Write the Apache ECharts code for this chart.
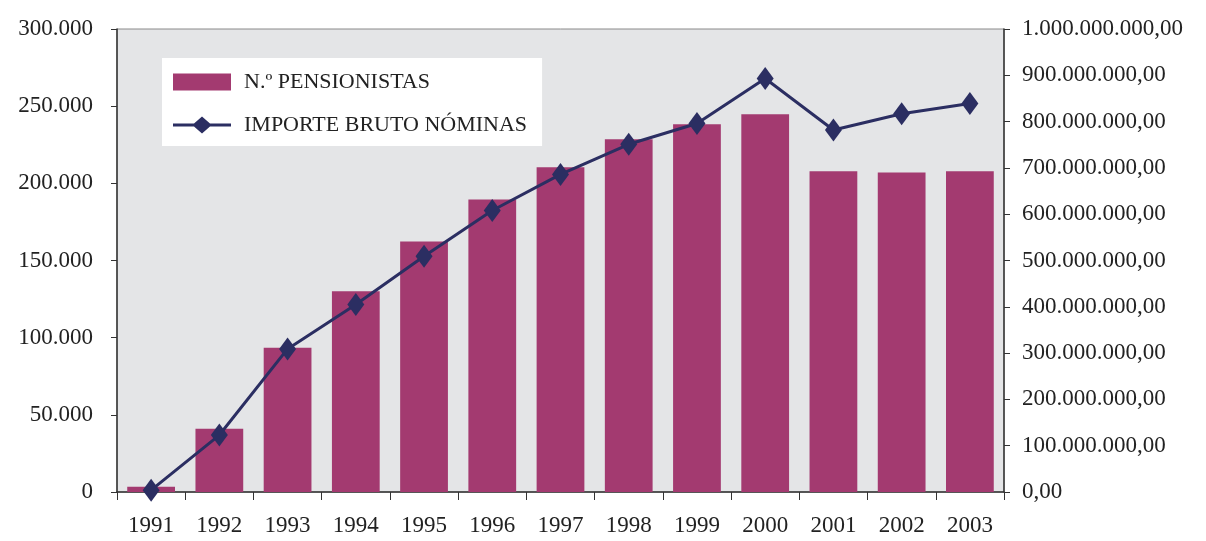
<!DOCTYPE html>
<html>
<head>
<meta charset="utf-8">
<script src="https://cdn.jsdelivr.net/npm/echarts@6/dist/echarts.min.js"></script>
<style>
    html, body { margin: 0; padding: 0; background: #fff; }
    #chart { width: 1206px; height: 541px; }
</style>
</head>
<body>
<div id="chart"></div>
<script>
var years = ['1991', '1992', '1993', '1994', '1995', '1996', '1997', '1998', '1999', '2000', '2001', '2002', '2003'];
var pensionistas = [3400, 41000, 93500, 130000, 162300, 189600, 210400, 228600, 238300, 244800, 207800, 207100, 207800];
var importeBruto = [4000000, 123000000, 309000000, 405000000, 509000000, 608000000, 686000000, 751000000, 796000000, 893000000, 782000000, 817000000, 839000000];

var fontFamily = '"Liberation Serif", "DejaVu Serif", serif';

function fmtThousands (v) {
    return String(Math.round(v)).replace(/\B(?=(\d{3})+(?!\d))/g, '.');
}

// line + diamond for the legend, drawn at itemWidth x itemHeight
var lineDiamondIcon = 'path://M0,7L21,7L29,0L37,7L58,7L58,10L37,10L29,17L21,10L0,10Z';

var myChart = echarts.init(document.getElementById('chart'));
var option = {
    animation: false,
    textStyle: { fontFamily: fontFamily },
    grid: {
        left: 117,
        right: 202,
        top: 29,
        bottom: 49,
        show: true,
        backgroundColor: '#e4e5e7',
        borderColor: '#8a8a8a',
        borderWidth: 1
    },
    legend: {
        orient: 'vertical',
        left: 162,
        top: 58,
        padding: [13, 15, 10, 11],
        backgroundColor: '#ffffff',
        itemWidth: 58,
        itemHeight: 17,
        itemGap: 21,
        symbolKeepAspect: false,
        textStyle: { fontFamily: fontFamily, fontSize: 22, color: '#222', padding: [0, 0, 0, 8] },
        data: [
            { name: 'N.º PENSIONISTAS', icon: 'rect' },
            { name: 'IMPORTE BRUTO NÓMINAS', icon: lineDiamondIcon }
        ]
    },
    xAxis: {
        type: 'category',
        data: years,
        axisLine: { lineStyle: { color: '#333', width: 1.5 } },
        axisTick: { show: true, length: 8, lineStyle: { color: '#333' } },
        axisLabel: { fontSize: 23, color: '#222', margin: 22, fontFamily: fontFamily }
    },
    yAxis: [
        {
            type: 'value',
            min: 0,
            max: 300000,
            interval: 50000,
            splitLine: { show: false },
            axisLine: { show: true, lineStyle: { color: '#333', width: 1.5 } },
            axisTick: { show: true, length: 6, lineStyle: { color: '#333' } },
            axisLabel: {
                fontSize: 23, color: '#222', margin: 24, fontFamily: fontFamily,
                formatter: fmtThousands
            }
        },
        {
            type: 'value',
            min: 0,
            max: 1000000000,
            interval: 100000000,
            splitLine: { show: false },
            axisLine: { show: true, lineStyle: { color: '#333', width: 1.5 } },
            axisTick: { show: true, length: 6, lineStyle: { color: '#333' } },
            axisLabel: {
                fontSize: 23, color: '#222', margin: 18, fontFamily: fontFamily,
                formatter: function (v) { return fmtThousands(v) + ',00'; }
            }
        }
    ],
    series: [
        {
            name: 'N.º PENSIONISTAS',
            type: 'bar',
            yAxisIndex: 0,
            barCategoryGap: '30%',
            itemStyle: { color: '#a33a70' },
            data: pensionistas
        },
        {
            name: 'IMPORTE BRUTO NÓMINAS',
            type: 'line',
            yAxisIndex: 1,
            symbol: 'diamond',
            symbolSize: [17, 23],
            lineStyle: { color: '#2b2e62', width: 3 },
            itemStyle: { color: '#2b2e62' },
            data: importeBruto
        }
    ]
};
myChart.setOption(option);
window.addEventListener('resize', function () {
    myChart.resize();
});
</script>
</body>
</html>
